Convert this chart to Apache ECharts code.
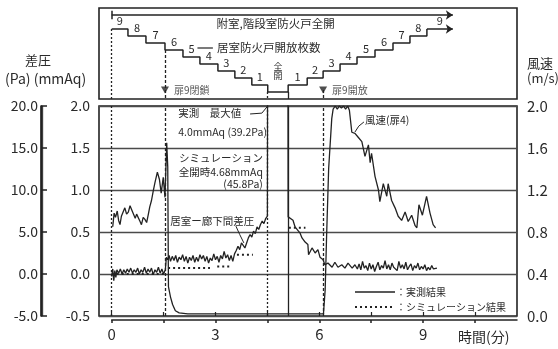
<!DOCTYPE html>
<html>
<head>
<meta charset="utf-8">
<script src="https://cdn.jsdelivr.net/npm/echarts@6/dist/echarts.min.js"></script>
<style>
  html, body { margin: 0; padding: 0; background: #ffffff; }
  #chart { width: 558px; height: 349px; }
</style>
</head>
<body>
<div id="chart"></div>
<script>
// ---- time axis (minutes) ----
const timeTicks  = [0, 1.5, 3, 4.5, 6, 7.5, 9, 10.5];
const timeLabels = [0, 3, 6, 9];

// ---- Pa scale extent ----
const paRange = [-5, 20];

// ---- number of open room fire doors (step changes) ----
const stepT = [0, 0.47, 0.99, 1.54, 2.06, 2.55, 3.07, 3.56, 4.05, 4.51,
               5.10, 5.65, 6.11, 6.60, 7.09, 7.61, 8.13, 8.62, 9.11];
const stepN = [9, 8, 7, 6, 5, 4, 3, 2, 1, 0,
               1, 2, 3, 4, 5, 6, 7, 8, 9];
const stepEndT = 9.86;          // arrow end of the last step
const allOpenLevel = 11;        // 附室・階段室防火戸 fully open

// ---- events (door 9) ----
const eventT    = [0, 1.54, 4.51, 5.10, 6.11];
const eventFrom = [9, 6, 0, 0, 0.3];
const doorT     = [1.54, 6.11];
const doorText  = ['扉9閉鎖', '扉9開放'];

// ---- wind speed at door 4 (m/s), measured ----
const windT = [0.03, 0.07, 0.11, 0.16, 0.20, 0.24, 0.28, 0.33, 0.38, 0.43,
               0.48, 0.53, 0.58, 0.63, 0.68, 0.72, 0.77, 0.82, 0.86, 0.91,
               0.96, 1.01, 1.06, 1.10, 1.15, 1.20, 1.25, 1.32, 1.38, 1.43,
               1.49, 1.54, 1.59, 1.62, 1.64, 1.70, 1.76, 1.84, 1.95, 2.20,
               3.00, 4.00, 5.00, 6.00, 6.12, 6.17, 6.21, 6.27, 6.36, 6.40,
               6.46, 6.52, 6.58, 6.64, 6.70, 6.76, 6.82, 6.87, 6.94, 7.03,
               7.13, 7.23, 7.32, 7.42, 7.47, 7.51, 7.61, 7.71, 7.75, 7.85,
               7.95, 7.99, 8.09, 8.19, 8.28, 8.38, 8.48, 8.57, 8.67, 8.77,
               8.82, 8.88, 8.98, 9.10, 9.20, 9.29, 9.36];
const windV = [0.85, 0.98, 0.94, 1.00, 0.91, 0.87, 0.95, 0.99, 1.03, 0.97,
               0.99, 1.05, 1.01, 1.00, 0.93, 0.97, 0.96, 0.90, 0.87, 0.94,
               0.92, 0.89, 0.97, 1.04, 1.10, 1.19, 1.27, 1.37, 1.30, 1.17,
               1.32, 1.13, 1.65, 1.42, 0.28, 0.18, 0.11, 0.05, 0.03, 0.02,
               0.02, 0.02, 0.02, 0.02, 0.02, 0.25, 0.75, 1.40, 1.88, 1.97,
               2.00, 1.97, 2.00, 1.98, 2.00, 1.97, 2.00, 1.96, 1.75, 1.74,
               1.70, 1.66, 1.52, 1.63, 1.46, 1.55, 1.33, 1.20, 1.09, 1.26,
               1.14, 1.26, 1.10, 1.03, 0.95, 0.91, 0.99, 0.90, 0.96, 0.86,
               0.84, 1.06, 0.96, 1.14, 0.98, 0.87, 0.84];

// ---- room-corridor pressure difference (mmAq), measured ----
const dpT = [0.00, 0.03, 0.06, 0.09, 0.12, 0.15, 0.20, 0.25, 0.30, 0.35,
             0.40, 0.45, 0.50, 0.55, 0.60, 0.65, 0.70, 0.75, 0.80, 0.85,
             0.90, 0.95, 1.00, 1.05, 1.10, 1.15, 1.20, 1.25, 1.30, 1.35,
             1.40, 1.45, 1.50, 1.55, 1.58, 1.62, 1.66, 1.70, 1.75, 1.80,
             1.85, 1.90, 1.95, 2.00, 2.05, 2.10, 2.15, 2.20, 2.25, 2.30,
             2.35, 2.40, 2.45, 2.50, 2.55, 2.60, 2.65, 2.70, 2.75, 2.80,
             2.85, 2.90, 2.95, 3.00, 3.05, 3.10, 3.15, 3.20, 3.25, 3.30,
             3.35, 3.40, 3.45, 3.50, 3.55, 3.60, 3.65, 3.70, 3.75, 3.80,
             3.85, 3.90, 3.95, 4.00, 4.05, 4.10, 4.15, 4.20, 4.25, 4.30,
             4.35, 4.40, 4.45, 4.50, 4.51, 5.09, 5.10, 5.15, 5.24, 5.30,
             5.38, 5.44, 5.50, 5.53, 5.59, 5.67, 5.69, 5.79, 5.88, 5.96,
             6.02, 6.11, 6.16, 6.25, 6.37, 6.45, 6.54, 6.65, 6.74, 6.83,
             6.95, 7.03, 7.10, 7.15, 7.20, 7.25, 7.30, 7.35, 7.40, 7.45,
             7.50, 7.55, 7.60, 7.65, 7.70, 7.75, 7.80, 7.85, 7.90, 7.95,
             8.00, 8.05, 8.10, 8.15, 8.20, 8.25, 8.30, 8.35, 8.40, 8.45,
             8.50, 8.55, 8.60, 8.65, 8.70, 8.75, 8.80, 8.85, 8.90, 8.95,
             9.00, 9.05, 9.10, 9.15, 9.20, 9.25, 9.30, 9.35, 9.40];
const dpV = [-0.03, 0.06, -0.08, 0.04, -0.04, 0.05, 0.01, 0.06, 0.00, 0.05,
             0.01, 0.06, 0.02, 0.07, 0.01, 0.05, 0.02, 0.07, 0.00, 0.05,
             0.02, 0.08, 0.01, 0.06, 0.02, 0.07, -0.01, 0.05, 0.02, 0.08,
             0.01, 0.06, 0.00, 0.05, 0.20, 0.17, 0.22, 0.15, 0.21, 0.16,
             0.22, 0.14, 0.20, 0.17, 0.23, 0.15, 0.21, 0.13, 0.20, 0.16,
             0.22, 0.14, 0.20, 0.15, 0.23, 0.18, 0.22, 0.15, 0.21, 0.13,
             0.19, 0.16, 0.24, 0.17, 0.21, 0.14, 0.22, 0.18, 0.27, 0.19,
             0.23, 0.16, 0.22, 0.15, 0.24, 0.28, 0.33, 0.29, 0.37, 0.35,
             0.31, 0.37, 0.43, 0.47, 0.44, 0.51, 0.48, 0.56, 0.53, 0.59,
             0.63, 0.60, 0.66, 0.69, 4.00, 4.00, 0.68, 0.68, 0.64, 0.56,
             0.52, 0.49, 0.43, 0.44, 0.38, 0.35, 0.23, 0.31, 0.25, 0.29,
             0.20, 0.17, 0.11, 0.13, 0.08, 0.14, 0.08, 0.11, 0.07, 0.13,
             0.07, 0.11, 0.06, 0.12, 0.05, 0.15, 0.07, 0.10, 0.04, 0.13,
             0.06, 0.11, 0.03, 0.09, 0.14, 0.05, 0.10, 0.07, 0.16, 0.06,
             0.11, 0.05, 0.13, 0.08, 0.10, 0.04, 0.15, 0.07, 0.11, 0.06,
             0.14, 0.05, 0.09, 0.12, 0.04, 0.10, 0.07, 0.13, 0.05, 0.09,
             0.06, 0.11, 0.04, 0.08, 0.05, 0.10, 0.06, 0.08, 0.07];

// ---- pressure difference (mmAq), simulation: constant segments ----
const simStart = [0.00, 1.63, 3.05, 3.62, 4.51, 5.12];
const simEnd   = [1.50, 2.84, 3.48, 4.08, 5.09, 5.60];
const simLevel = [0.00, 0.07, 0.09, 0.23, 4.68, 0.55];

// ---------------------------------------------------------------
const FONT = '"Noto Sans CJK JP", "Noto Sans", sans-serif';
const INK = '#222';
const TXT = '#2a2a2a';
const T_MIN = -0.367, T_MAX = 11.714;
const PA_X = 41;                 // left edge of the Pa scale spine
const EVENT_DASH = [[2, 2], [3, 2], [2, 2], 'solid', [3, 2]];
const SIM_DASH = [2, 3];

const windData = windT.map((t, i) => [t, windV[i]]);
const dpData = dpT.map((t, i) => [t, dpV[i]]);
const simData = [];
simStart.forEach((s, i) => {
  simData.push([s, simLevel[i]], [simEnd[i], simLevel[i]], [simEnd[i], null]);
});
const stairData = stepT.map((t, i) => [t, stepN[i]]);

const fmt1 = v => (Math.round(v * 10) / 10).toFixed(1);

const option = {
  backgroundColor: '#ffffff',
  animation: false,
  textStyle: { fontFamily: FONT },
  grid: [
    { left: 99, right: 41, top: 106, height: 210, show: true, borderColor: INK, borderWidth: 1.6 },
    { left: 99, right: 41, top: 8, height: 91, show: true, borderColor: INK, borderWidth: 1.6 },
    { left: 111.7, right: 41, top: 316, height: 4 },
    // narrow filled panel: forms the spine of the Pa scale
    { left: PA_X, width: 1.8, top: 106, height: 210, show: true,
      backgroundColor: INK, borderColor: INK, borderWidth: 0.5 }
  ],
  xAxis: [
    { gridIndex: 0, type: 'value', min: T_MIN, max: T_MAX, show: false },
    { gridIndex: 1, type: 'value', min: T_MIN, max: T_MAX, show: false },
    {
      gridIndex: 2, type: 'value', min: 0, max: T_MAX, position: 'bottom',
      axisLine: { lineStyle: { color: INK, width: 1.5 } },
      axisTick: { show: true, customValues: timeTicks, length: 3, lineStyle: { color: INK, width: 1.5 } },
      axisLabel: { customValues: timeLabels, color: TXT, fontSize: 15, margin: 7, fontFamily: FONT },
      splitLine: { show: false }
    },
    {
      gridIndex: 0, type: 'value', min: T_MIN, max: T_MAX, position: 'top',
      axisLine: { show: false },
      axisTick: { show: true, customValues: timeTicks, length: 4, lineStyle: { color: INK, width: 1.2 } },
      axisLabel: { show: false },
      splitLine: { show: false }
    },
    { gridIndex: 3, type: 'value', min: 0, max: 1, show: false }
  ],
  yAxis: [
    {
      gridIndex: 0, type: 'value', min: -0.5, max: 2.0, interval: 0.5, position: 'left',
      axisLine: { show: false }, axisTick: { show: false },
      splitLine: { show: true, lineStyle: { color: '#4a4a4a', width: 1.3 } },
      axisLabel: { formatter: fmt1, color: TXT, fontSize: 14, margin: 9, fontFamily: FONT }
    },
    {
      gridIndex: 3, type: 'value', min: paRange[0], max: paRange[1], interval: 5, position: 'left',
      axisLine: { show: true, onZero: false, lineStyle: { color: INK, width: 1.6 } },
      axisTick: { show: true, inside: true, length: 6, lineStyle: { color: INK, width: 1.5 } },
      splitLine: { show: false },
      axisLabel: { formatter: fmt1, color: TXT, fontSize: 14, margin: 3, fontFamily: FONT }
    },
    {
      gridIndex: 0, type: 'value', min: 0, max: 2.0, interval: 0.4, position: 'right',
      axisLine: { show: false }, axisTick: { show: false }, splitLine: { show: false },
      axisLabel: { formatter: fmt1, color: TXT, fontSize: 15, margin: 10, fontFamily: FONT }
    },
    { gridIndex: 1, type: 'value', min: -1, max: 12, show: false },
    { gridIndex: 2, type: 'value', min: 0, max: 1, show: false }
  ],
  series: [
    {
      name: '風速', type: 'line', xAxisIndex: 0, yAxisIndex: 2,
      data: windData, symbol: 'none', z: 4,
      lineStyle: { color: INK, width: 1.3 },
      markLine: {
        silent: true, symbol: 'none', label: { show: false },
        lineStyle: { color: INK, width: 1.3 },
        data: eventT.map((t, i) => ({ xAxis: t, lineStyle: { type: EVENT_DASH[i], color: INK, width: 1.3 } }))
      }
    },
    {
      name: '実測結果', type: 'line', xAxisIndex: 0, yAxisIndex: 0,
      data: dpData, symbol: 'none', z: 5,
      lineStyle: { color: INK, width: 1.3 }
    },
    {
      name: 'シミュレーション結果', type: 'line', xAxisIndex: 0, yAxisIndex: 0,
      data: simData, symbol: 'none', connectNulls: false, z: 3,
      lineStyle: { color: INK, width: 2, type: SIM_DASH }
    },
    {
      name: '開放枚数', type: 'line', xAxisIndex: 1, yAxisIndex: 3,
      data: stairData, step: 'end', symbol: 'none',
      lineStyle: { color: INK, width: 1.5 },
      markLine: {
        silent: true, symbol: ['none', 'none'], label: { show: false },
        lineStyle: { color: INK, width: 1.3, type: 'solid' },
        data: [
          ...eventT.map((t, i) => [
            { coord: [t, eventFrom[i]], lineStyle: { type: EVENT_DASH[i], color: INK, width: 1.3 } },
            { coord: [t, -1] }
          ]),
          [{ coord: [stepT[stepT.length - 1], stepN[stepN.length - 1]], lineStyle: { width: 1.5, color: INK } },
           { coord: [stepEndT, stepN[stepN.length - 1]], symbol: 'arrow', symbolSize: 7 }],
          [{ coord: [0, allOpenLevel], lineStyle: { width: 1.5, color: INK } },
           { coord: [stepEndT, allOpenLevel], symbol: 'arrow', symbolSize: 7 }],
          [{ coord: [0, allOpenLevel - 0.6], lineStyle: { width: 1.5, color: INK } },
           { coord: [0, allOpenLevel + 0.6] }]
        ]
      }
    },
    {
      name: '扉9', type: 'scatter', xAxisIndex: 1, yAxisIndex: 3,
      data: doorT.map((t, i) => ({ value: [t, 0.3], name: doorText[i] })),
      symbol: 'triangle', symbolRotate: 180, symbolSize: [8, 7],
      itemStyle: { color: INK },
      label: { show: true, position: 'right', distance: 5, formatter: p => p.name,
               color: TXT, fontSize: 10, fontFamily: FONT }
    }
  ]
};

const chart = echarts.init(document.getElementById('chart'), null, { renderer: 'canvas' });
chart.setOption(option);

// ---- annotations placed through the axes ----
const MAIN = { xAxisIndex: 0, yAxisIndex: 0 };
const DOOR = { xAxisIndex: 1, yAxisIndex: 3 };
const px = (f, p) => chart.convertToPixel(f, p);

function txt(x, y, text, size, align) {
  return {
    type: 'text', x: x, y: y, silent: true, z: 20,
    style: {
      text: text, fill: TXT, font: size + 'px ' + FONT,
      align: align || 'left', verticalAlign: 'middle',
      textAlign: align || 'left', textVerticalAlign: 'middle'
    }
  };
}
function seg(x1, y1, x2, y2, w, dash) {
  return {
    type: 'line', silent: true, z: 20,
    shape: { x1: x1, y1: y1, x2: x2, y2: y2 },
    style: { stroke: INK, lineWidth: w || 1, lineDash: dash || null }
  };
}
function poly(points, w) {
  return {
    type: 'polyline', silent: true, z: 20,
    shape: { points: points },
    style: { stroke: INK, lineWidth: w || 1, fill: null }
  };
}

const g = [];

// axis titles
g.push(txt(38, 60, '差圧', 13, 'center'));
g.push(txt(5, 79, '(Pa) (mmAq)', 14, 'left'));
g.push(txt(527, 63, '風速', 13, 'left'));
g.push(txt(527, 78, '(m/s)', 13, 'left'));
g.push(txt(458, 337, '時間(分)', 14, 'left'));

// main-panel notes
const mainNotes = [
  { t: 1.92, v: 1.92, text: '実測　最大値', align: 'left' },
  { t: 1.92, v: 1.69, text: '4.0mmAq (39.2Pa)', align: 'left' },
  { t: 4.37, v: 1.38, text: 'シミュレーション', align: 'right' },
  { t: 4.37, v: 1.21, text: '全開時4.68mmAq', align: 'right' },
  { t: 4.37, v: 1.07, text: '(45.8Pa)', align: 'right' },
  { t: 1.69, v: 0.63, text: '居室ー廊下間差圧', align: 'left' },
  { t: 7.32, v: 1.83, text: '風速(扉4)', align: 'left' }
];
mainNotes.forEach(n => {
  const p = px(MAIN, [n.t, n.v]);
  g.push(txt(p[0], p[1], n.text, 10.5, n.align));
});
// leaders
g.push(poly([[4.0, 1.905], [4.34, 1.915], [4.49, 1.99]].map(q => px(MAIN, q)), 1));
g.push(poly([[3.59, 0.57], [3.70, 0.47], [3.82, 0.37]].map(q => px(MAIN, q)), 1));
g.push(poly([[7.29, 1.81], [7.14, 1.76], [7.03, 1.69]].map(q => px(MAIN, q)), 1));

// key for the two pressure results
{
  const keys = [
    { name: '実測結果', dash: null, w: 1.5 },
    { name: 'シミュレーション結果', dash: SIM_DASH, w: 2 }
  ];
  keys.forEach((k, i) => {
    const y = 292 + i * 15;
    g.push(seg(355, y, 395, y, k.w, k.dash));
    g.push(txt(396, y, '：' + k.name, 10, 'left'));
  });
}

// door-panel step numbers
stepN.forEach((n, i) => {
  if (n === 0) return;
  const tEnd = i + 1 < stepT.length ? stepT[i + 1] : stepEndT;
  const p = px(DOOR, [(stepT[i] + tEnd) / 2, n]);
  g.push(txt(p[0], p[1] - 8, String(n), 11, 'center'));
});
// fully open (全開) mark on the zero step
{
  const i0 = stepN.indexOf(0);
  const p = px(DOOR, [(stepT[i0] + stepT[i0 + 1]) / 2, 0]);
  g.push(txt(p[0], p[1] - 25, '全', 9, 'center'));
  g.push(txt(p[0], p[1] - 16, '開', 9, 'center'));
}
// door-panel captions
{
  const a = px(DOOR, [3.03, allOpenLevel]);
  g.push(txt(a[0], a[1] + 9, '附室,階段室防火戸全開', 11.5, 'left'));
  const i5 = stepN.indexOf(5);
  const l5 = px(DOOR, [(stepT[i5] + stepT[i5 + 1]) / 2, 5]);
  const c = px(DOOR, [3.04, 5]);
  const y = l5[1] - 9;
  g.push(seg(l5[0] + 6, y, c[0] - 4, y, 1.2));
  g.push(txt(c[0], y, '居室防火戸開放枚数', 11.5, 'left'));
}

chart.setOption({ graphic: g });
</script>
</body>
</html>
